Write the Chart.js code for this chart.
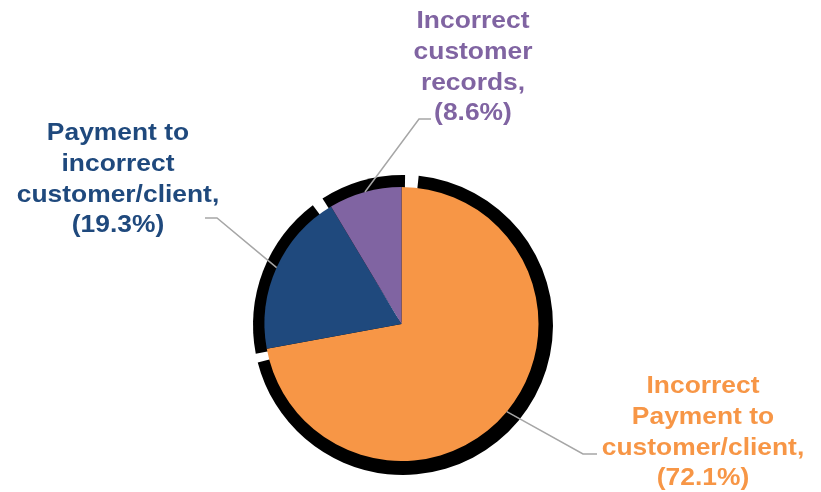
<!DOCTYPE html>
<html>
<head>
<meta charset="utf-8">
<script src="https://cdn.jsdelivr.net/npm/chart.js@4"></script>
<style>
  html, body { margin: 0; padding: 0; background: #fff; }
  #wrap { width: 821px; height: 492px; }
</style>
</head>
<body>
<div id="wrap"><canvas id="myChart" width="821" height="492"></canvas></div>
<script>
// data
var categories = ['Incorrect Payment to customer/client', 'Payment to incorrect customer/client', 'Incorrect customer records'];
var shares = [72.1, 19.3, 8.6];
var labelLines = [
    ['Incorrect', 'Payment to', 'customer/client,'],
    ['Payment to', 'incorrect', 'customer/client,'],
    ['Incorrect', 'customer', 'records,']
];
var sliceColors = ['#F79646', '#1F497D', '#8064A2'];

// label placement: text centre x, first baseline, elbow of leader, end of leader
var labelPos = [
    { x: 703, y: 393, elbow: [583, 454], end: [597, 454] },
    { x: 118, y: 140, elbow: [217, 218], end: [205, 218] },
    { x: 473, y: 28,  elbow: [419, 119], end: [431, 119] }
];
// angle trims (deg) for the black shadow behind each slice
var shadowTrim = [[6, -4], [-0.6, -6], [-1.5, 0.8]];

var rad = Math.PI / 180;

var shadowPlugin = {
    id: 'sliceShadow',
    beforeDatasetsDraw: function (chart) {
        var ctx = chart.ctx;
        var arcs = chart.getDatasetMeta(0).data;
        ctx.save();
        ctx.fillStyle = '#000';
        arcs.forEach(function (a, i) {
            var x = a.x + 1.5, y = a.y + 1;
            ctx.beginPath();
            ctx.moveTo(x, y);
            ctx.arc(x, y, a.outerRadius + 13, a.startAngle + shadowTrim[i][0] * rad, a.endAngle + shadowTrim[i][1] * rad);
            ctx.closePath();
            ctx.fill();
        });
        ctx.restore();
    }
};

var labelPlugin = {
    id: 'sliceLabels',
    afterDatasetsDraw: function (chart) {
        var ctx = chart.ctx;
        var arcs = chart.getDatasetMeta(0).data;
        ctx.save();
        arcs.forEach(function (a, i) {
            var p = labelPos[i];
            var mid = (a.startAngle + a.endAngle) / 2;
            var sx = a.x + Math.cos(mid) * a.outerRadius;
            var sy = a.y + Math.sin(mid) * a.outerRadius;
            ctx.strokeStyle = '#A6A6A6';
            ctx.lineWidth = 1.5;
            ctx.beginPath();
            ctx.moveTo(sx, sy);
            ctx.lineTo(p.elbow[0], p.elbow[1]);
            ctx.lineTo(p.end[0], p.end[1]);
            ctx.stroke();

            var lines = labelLines[i].concat(['(' + shares[i].toFixed(1) + '%)']);
            ctx.fillStyle = sliceColors[i];
            ctx.font = 'bold 24px "Liberation Sans", Arial, sans-serif';
            ctx.textAlign = 'center';
            ctx.textBaseline = 'alphabetic';
            lines.forEach(function (t, k) {
                ctx.save();
                ctx.translate(p.x, p.y + k * 30.8);
                ctx.scale(1.1, 1);
                ctx.fillText(t, 0, 0);
                ctx.restore();
            });
        });
        ctx.restore();
    }
};

var totalChart = new Chart('myChart', {
    type: 'pie',
    data: {
        labels: categories,
        datasets: [{
            data: shares,
            backgroundColor: sliceColors,
            borderWidth: 0,
            hoverOffset: 0
        }]
    },
    options: {
        responsive: false,
        animation: false,
        layout: { padding: { top: 187, bottom: 31, left: 264.5, right: 282.5 } },
        plugins: {
            legend: { display: false },
            tooltip: { enabled: false }
        }
    },
    plugins: [shadowPlugin, labelPlugin]
});
</script>
</body>
</html>
